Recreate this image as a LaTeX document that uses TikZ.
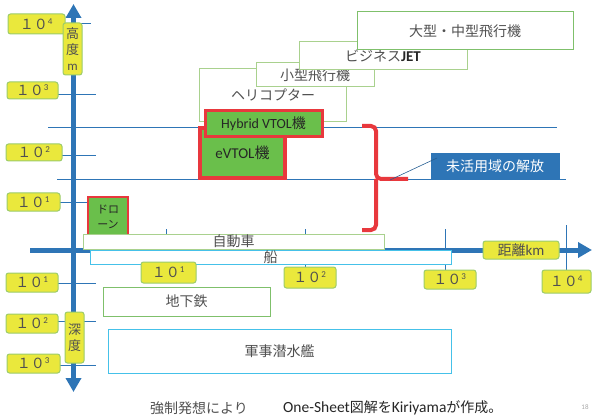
\documentclass[tikz,border=0pt]{standalone}
\usepackage{fontspec}
\setmainfont{Carlito}
\newfontfamily\jp{Noto Sans CJK JP}
\usetikzlibrary{arrows.meta}
\definecolor{axisblue}{HTML}{2E75B6}
\definecolor{yel}{HTML}{EAE83C}
\definecolor{lbgreen}{HTML}{9BCB6A}
\definecolor{lgreen}{HTML}{A9D18E}
\definecolor{mgreen}{HTML}{7FC06B}
\definecolor{gfill}{HTML}{6ABF4B}
\definecolor{vred}{HTML}{E8383D}
\definecolor{cyanb}{HTML}{45C1E9}
\definecolor{txt}{HTML}{505050}
\definecolor{dtxt}{HTML}{262626}
\newcommand\rbox[7]{\node[#1, minimum width={(#5)-(#3)}, minimum height={(#6)-(#4)}, anchor=north west] (#2) at (#3,#4) {#7};}
\newcommand\pw[1]{{\jp １０}\textsuperscript{\fontsize{9}{9}\selectfont #1}}
\begin{document}
\begin{tikzpicture}[x=1pt,y=-1pt,
  thinline/.style={draw=axisblue, line width=0.9pt},
  axisline/.style={draw=axisblue, line width=5pt, -{Triangle[length=14pt,width=15pt]}},
  lbl/.style={draw=lbgreen, fill=yel, rounded corners=2.5pt, line width=1pt, inner sep=0pt, outer sep=0pt, text=txt, font=\fontsize{14}{14}\selectfont},
  vlbl/.style={lbl, align=center, font=\fontsize{13}{16}\selectfont\jp},
  wbox/.style={draw=lgreen, fill=white, line width=1pt, inner sep=0pt, outer sep=0pt, text=txt, font=\fontsize{14}{16}\selectfont\jp},
  cbox/.style={wbox, draw=cyanb},
  vbox/.style={draw=vred, fill=gfill, inner sep=0pt, outer sep=0pt, text=dtxt},
  foot/.style={inner sep=0pt, text=dtxt, font=\fontsize{14}{14}\selectfont}
]
\useasboundingbox (0,0) rectangle (592,417);
% thin grid lines
\coordinate (h1a) at (65,23);  \coordinate (h1b) at (91,23);
\coordinate (h2a) at (58,94);  \coordinate (h2b) at (96,94);
\coordinate (h3a) at (48,127); \coordinate (h3b) at (557,127);
\coordinate (h4a) at (62,155); \coordinate (h4b) at (96,155);
\coordinate (h5a) at (57,179); \coordinate (h5b) at (566,179);
\coordinate (h6a) at (60,202); \coordinate (h6b) at (88,202);
\coordinate (d1a) at (58,283); \coordinate (d1b) at (96,283);
\coordinate (d2a) at (58,321); \coordinate (d2b) at (96,321);
\coordinate (d3a) at (60,365); \coordinate (d3b) at (96,365);
\foreach \a/\b in {h1a/h1b,h2a/h2b,h3a/h3b,h4a/h4b,h5a/h5b,h6a/h6b,d1a/d1b,d2a/d2b,d3a/d3b}
  \draw[thinline] (\a) -- (\b);
\coordinate (t1a) at (166,229); \coordinate (t1b) at (166,262);
\coordinate (t2a) at (305,229); \coordinate (t2b) at (305,267);
\coordinate (t3a) at (445,229); \coordinate (t3b) at (445,270);
\coordinate (t4a) at (566,225); \coordinate (t4b) at (566,270);
\foreach \a/\b in {t1a/t1b,t2a/t2b,t3a/t3b,t4a/t4b}
  \draw[thinline] (\a) -- (\b);
% axes
\coordinate (vtop) at (73.5,4);
\coordinate (vbot) at (73.5,392);
\coordinate (vmid) at (73.5,250);
\coordinate (hl) at (30,250);
\coordinate (hr) at (592,250);
\draw[axisline] (vmid) -- (vtop);
\draw[axisline] (vmid) -- (vbot);
\draw[axisline] (hl) -- (hr);
% top boxes
\rbox{wbox}{heli}{199}{69}{346}{122}{}
\node[text=txt, font=\fontsize{14}{14}\selectfont\jp] at (273,95) {ヘリコプター};
\rbox{wbox}{small}{256}{63}{374}{87}{小型飛行機}
\rbox{wbox}{biz}{299}{42}{467}{70}{ビジネス{\rmfamily\bfseries\fontsize{15}{15}\selectfont\color{dtxt}JET}}
\rbox{wbox, draw=mgreen}{big}{357}{12}{573}{50}{大型・中型飛行機}
% VTOL
\rbox{vbox, line width=4.5pt, font=\fontsize{15}{15}\selectfont}{evtol}{200}{128}{285}{178}{eVTOL{\jp 機}}
\rbox{vbox, line width=3pt, font=\fontsize{14}{14}\selectfont}{hyb}{205}{111}{322}{137}{Hybrid VTOL{\jp 機}}
\rbox{vbox, line width=1.2pt, align=center, font=\fontsize{11}{15}\selectfont\jp}{drone}{88}{197}{128}{236}{ドロ\\ーン}
% bracket
\coordinate (bt) at (362,126);
\coordinate (bm) at (376,179);
\coordinate (bb) at (362,230);
\coordinate (btip) at (408,179);
\draw[vred, line width=4pt, rounded corners=5pt] (bt) -- (376,126) -- (bm) -- (btip);
\draw[vred, line width=4pt, rounded corners=5pt] (bm) -- (376,230) -- (bb);
% unexploited label
\rbox{draw=axisblue, fill=axisblue, inner sep=0pt, outer sep=0pt, text=white, font=\fontsize{14}{14}\selectfont\jp}{free}{431}{153}{559}{179}{未活用域の解放}
\coordinate (pt) at (390,180);
\draw[draw=axisblue!80!black, line width=0.6pt] (pt) -- ([xshift=6pt,yshift=-5pt]free.north west);
% ground boxes
\rbox{wbox}{car}{83}{234}{384}{249}{自動車}
\rbox{cbox}{ship}{90}{250}{451}{264}{船}
\rbox{wbox, draw=mgreen}{metro}{103}{287}{270}{316}{地下鉄}
\rbox{cbox}{sub}{108}{329}{451}{373}{軍事潜水艦}
% labels: altitude
\rbox{lbl}{a4}{8}{14}{65}{34}{\pw{4}}
\rbox{vlbl}{alt}{63}{23}{82}{75}{高\\度\\{\rmfamily m}}
\rbox{lbl}{a3}{7}{82}{58}{99}{\pw{3}}
\rbox{lbl}{a2}{6}{144}{62}{161}{\pw{2}}
\rbox{lbl}{a1}{7}{193}{60}{211}{\pw{1}}
% labels: distance
\rbox{lbl}{x1}{141}{262}{196}{283}{\pw{1}}
\rbox{lbl}{x2}{284}{267}{336}{288}{\pw{2}}
\rbox{lbl}{x3}{424}{270}{476}{289}{\pw{3}}
\rbox{lbl}{x4}{542}{270}{591}{293}{\pw{4}}
\rbox{lbl, font=\fontsize{15}{15}\selectfont}{dist}{483}{241}{559}{259}{{\jp\fontsize{14}{14}\selectfont 距離}km}
% labels: depth
\rbox{lbl}{dp1}{6}{273}{58}{292}{\pw{1}}
\rbox{lbl}{dp2}{6}{314}{58}{333}{\pw{2}}
\rbox{lbl}{dp3}{7}{354}{60}{373}{\pw{3}}
\rbox{vlbl}{dep}{65}{312}{84}{363}{深\\度}
% footer
\node[foot, anchor=west, text=txt] (f1) at (150,408) {\jp 強制発想により};
\node[foot, anchor=west, font=\fontsize{15.5}{15}\selectfont] (f2) at (283,408) {One-Sheet{\jp\fontsize{14}{14}\selectfont 図解を}Kiriyama{\jp\fontsize{14}{14}\selectfont が作成。}};
\node[inner sep=0pt, text=gray!70, font=\fontsize{7}{7}\selectfont] (pg) at (585,407) {18};
\end{tikzpicture}
\end{document}
